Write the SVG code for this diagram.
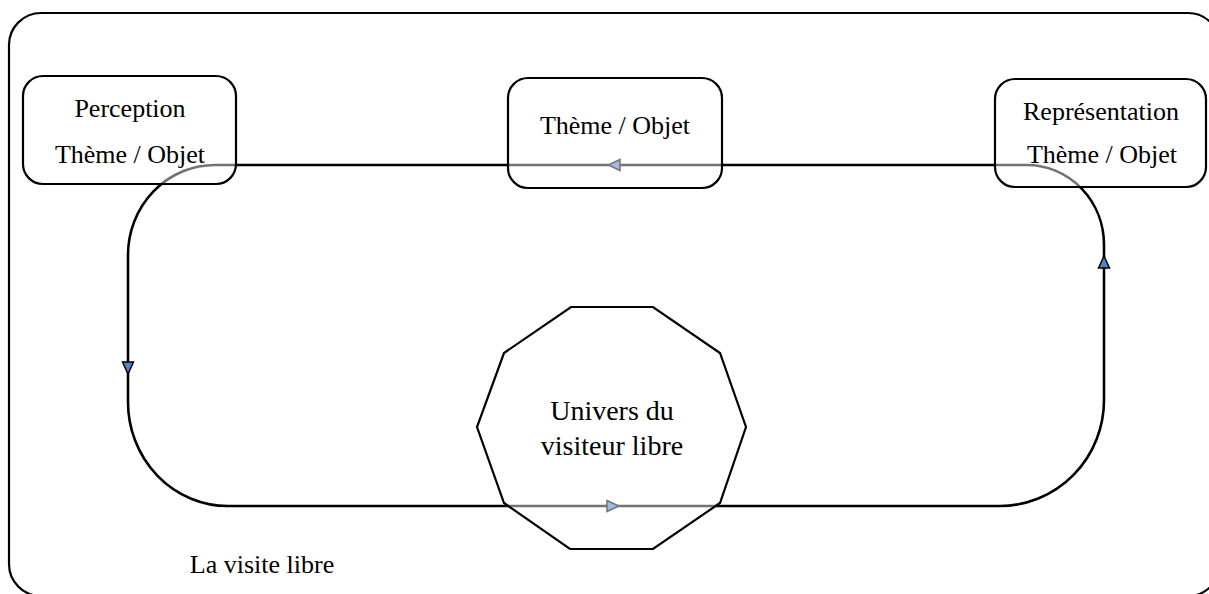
<svg xmlns="http://www.w3.org/2000/svg" width="1209" height="594" viewBox="0 0 1209 594">
<style>
.frame{fill:none;stroke:#000;stroke-width:2.2}
.box{fill:#fff;fill-opacity:0.45;stroke:#000;stroke-width:2.2}
.conn{fill:none;stroke:#000;stroke-width:2.6}
.t{font-family:"Liberation Serif","Times New Roman",serif;font-size:26px;fill:#000;text-anchor:middle}
.tb{font-family:"Liberation Serif","Times New Roman",serif;font-size:28px;fill:#000;text-anchor:middle}
</style>
<defs>
<marker id="arr" viewBox="0 0 14 14" refX="13" refY="7" markerWidth="14" markerHeight="14" markerUnits="userSpaceOnUse" orient="auto">
<polygon points="1,1.5 13,7 1,12.5" fill="#4f86c6" stroke="#000" stroke-width="1.5" stroke-linejoin="miter"/>
</marker>
</defs>
<rect id="frame" class="frame" x="9" y="13" width="1211" height="583" rx="32"/>
<g id="connectors">
<path class="conn" d="M1104,256 V245 A77,80 0 0 0 1027,165 H608" marker-end="url(#arr)"/>
<path class="conn" d="M608,165 H215 A87,90 0 0 0 128,255 V374" marker-end="url(#arr)"/>
<path class="conn" d="M128,374 V402 A100,104 0 0 0 228,506 H619" marker-end="url(#arr)"/>
<path class="conn" d="M619,506 H1000 A104,106 0 0 0 1104,400 V256" marker-end="url(#arr)"/>
</g>
<g id="perception">
<rect class="box" x="23" y="76" width="213" height="108" rx="20"/>
<text class="t" x="130" y="117">Perception</text>
<text class="t" x="130" y="163">Thème / Objet</text>
</g>
<g id="theme">
<rect class="box" x="508" y="78" width="214" height="110" rx="20"/>
<text class="t" x="615" y="134">Thème / Objet</text>
</g>
<g id="representation">
<rect class="box" x="995" y="79" width="211" height="108" rx="20"/>
<text class="t" x="1101" y="120">Représentation</text>
<text class="t" x="1102" y="163">Thème / Objet</text>
</g>
<g id="univers">
<polygon class="box" points="571,307 653,307 720,353 746,427 720,503 653,549 570,549 504,503 477,427 504,353"/>
<text class="tb" x="612" y="420">Univers du</text>
<text class="tb" x="612" y="455">visiteur libre</text>
</g>
<g id="label">
<text class="t" x="262" y="573">La visite libre</text>
</g>
</svg>
